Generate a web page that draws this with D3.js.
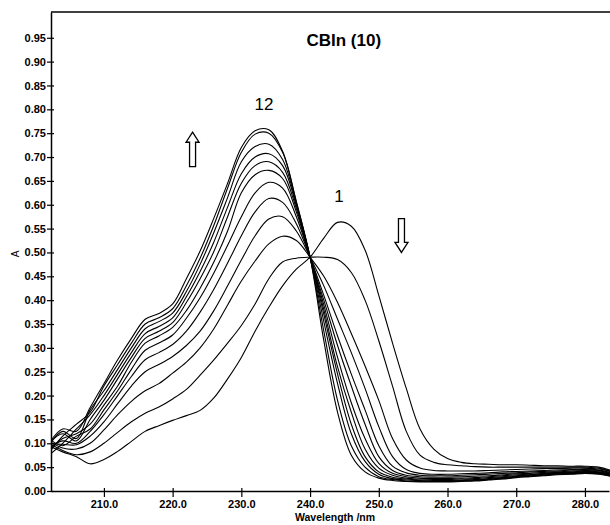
<!doctype html>
<html lang="en">

<head>
    <meta charset="utf-8">
    <title>CBIn (10)</title>
    <script src="https://cdnjs.cloudflare.com/ajax/libs/d3/7.8.5/d3.min.js"></script>
    <style>
    body {
        margin: 0;
        background: #fff;
    }

    text {
        font-family: "Liberation Sans", Arial, sans-serif;
        fill: #000;
    }

    .tick text {
        font-size: 11px;
        font-weight: bold;
    }

    .scan {
        fill: none;
        stroke: #000;
        stroke-width: 1.1px;
        stroke-linejoin: round;
    }
    </style>
</head>

<body>
<script>

// wavelength grid (nm), every 2 nm
var wavelengths = [202, 204, 206, 208, 210, 212, 214, 216, 218, 220, 222, 224, 226, 228, 230, 232, 234, 236, 238, 240, 242,
                   244, 246, 248, 250, 252, 254, 256, 258, 260, 262, 264, 266, 268, 270, 272, 274, 276, 278, 280, 282, 284];

// absorbance of each scan, 1 = first (peak at 245 nm) ... 12 = last
var scan1  = [0.095, 0.082, 0.072, 0.057, 0.066, 0.083, 0.104, 0.125, 0.137, 0.148, 0.158, 0.169, 0.195, 0.235, 0.280, 0.335, 0.385, 0.430, 0.465, 0.490, 0.530,
              0.563, 0.555, 0.505, 0.410, 0.310, 0.215, 0.130, 0.088, 0.068, 0.060, 0.057, 0.056, 0.055, 0.055, 0.054, 0.053, 0.053, 0.052, 0.052, 0.050, 0.042];
var scan2  = [0.100, 0.085, 0.076, 0.082, 0.100, 0.123, 0.145, 0.163, 0.176, 0.193, 0.213, 0.243, 0.275, 0.310, 0.347, 0.392, 0.445, 0.480, 0.488, 0.490, 0.490,
              0.485, 0.458, 0.400, 0.315, 0.220, 0.125, 0.075, 0.060, 0.055, 0.053, 0.051, 0.050, 0.050, 0.050, 0.050, 0.050, 0.050, 0.050, 0.050, 0.048, 0.040];
var scan3  = [0.105, 0.090, 0.088, 0.100, 0.128, 0.160, 0.188, 0.210, 0.225, 0.247, 0.270, 0.300, 0.340, 0.390, 0.440, 0.482, 0.518, 0.534, 0.525, 0.490, 0.450,
              0.395, 0.330, 0.262, 0.190, 0.110, 0.065, 0.048, 0.043, 0.042, 0.042, 0.042, 0.043, 0.044, 0.045, 0.046, 0.047, 0.047, 0.048, 0.048, 0.046, 0.040];
var scan4  = [0.100, 0.098, 0.097, 0.115, 0.145, 0.183, 0.220, 0.250, 0.265, 0.282, 0.305, 0.335, 0.378, 0.430, 0.484, 0.535, 0.570, 0.575, 0.545, 0.490, 0.430,
              0.360, 0.290, 0.215, 0.135, 0.072, 0.045, 0.037, 0.035, 0.035, 0.036, 0.037, 0.038, 0.040, 0.041, 0.042, 0.043, 0.044, 0.045, 0.046, 0.044, 0.038];
var scan5  = [0.090, 0.105, 0.100, 0.125, 0.160, 0.200, 0.240, 0.275, 0.290, 0.307, 0.335, 0.375, 0.423, 0.478, 0.535, 0.585, 0.613, 0.605, 0.560, 0.490, 0.410,
              0.325, 0.245, 0.170, 0.095, 0.052, 0.038, 0.033, 0.032, 0.032, 0.033, 0.034, 0.035, 0.037, 0.038, 0.040, 0.041, 0.042, 0.044, 0.045, 0.043, 0.037];
var scan6  = [0.110, 0.095, 0.115, 0.130, 0.170, 0.210, 0.255, 0.295, 0.310, 0.327, 0.362, 0.405, 0.457, 0.515, 0.575, 0.625, 0.647, 0.635, 0.575, 0.490, 0.400,
              0.305, 0.220, 0.140, 0.072, 0.043, 0.033, 0.030, 0.029, 0.029, 0.030, 0.031, 0.032, 0.034, 0.036, 0.037, 0.039, 0.040, 0.042, 0.043, 0.042, 0.036];
var scan7  = [0.085, 0.110, 0.120, 0.140, 0.180, 0.220, 0.270, 0.310, 0.325, 0.343, 0.378, 0.425, 0.480, 0.545, 0.625, 0.663, 0.672, 0.655, 0.585, 0.490, 0.390,
              0.280, 0.185, 0.110, 0.058, 0.037, 0.030, 0.027, 0.026, 0.026, 0.027, 0.028, 0.030, 0.032, 0.034, 0.035, 0.037, 0.039, 0.040, 0.042, 0.040, 0.035];
var scan8  = [0.100, 0.120, 0.105, 0.150, 0.190, 0.235, 0.280, 0.320, 0.335, 0.353, 0.395, 0.445, 0.502, 0.575, 0.645, 0.682, 0.690, 0.668, 0.592, 0.490, 0.380,
              0.260, 0.165, 0.088, 0.048, 0.033, 0.027, 0.025, 0.024, 0.024, 0.025, 0.026, 0.028, 0.030, 0.032, 0.034, 0.036, 0.038, 0.039, 0.041, 0.039, 0.034];
var scan9  = [0.075, 0.100, 0.130, 0.160, 0.200, 0.245, 0.290, 0.330, 0.345, 0.363, 0.407, 0.460, 0.522, 0.595, 0.665, 0.700, 0.707, 0.682, 0.598, 0.490, 0.370,
              0.245, 0.140, 0.072, 0.040, 0.029, 0.025, 0.023, 0.022, 0.022, 0.023, 0.024, 0.026, 0.028, 0.031, 0.033, 0.035, 0.037, 0.038, 0.040, 0.038, 0.033];
var scan10 = [0.095, 0.125, 0.110, 0.170, 0.210, 0.255, 0.300, 0.340, 0.355, 0.373, 0.418, 0.475, 0.542, 0.615, 0.690, 0.722, 0.727, 0.695, 0.602, 0.490, 0.355,
              0.225, 0.120, 0.062, 0.035, 0.026, 0.023, 0.022, 0.021, 0.021, 0.022, 0.023, 0.025, 0.027, 0.030, 0.032, 0.034, 0.036, 0.037, 0.039, 0.037, 0.032];
var scan11 = [0.080, 0.115, 0.140, 0.165, 0.220, 0.265, 0.310, 0.350, 0.363, 0.382, 0.430, 0.488, 0.557, 0.635, 0.710, 0.748, 0.750, 0.710, 0.607, 0.490, 0.335,
              0.190, 0.095, 0.050, 0.030, 0.024, 0.021, 0.020, 0.020, 0.020, 0.021, 0.022, 0.024, 0.026, 0.029, 0.031, 0.033, 0.035, 0.036, 0.038, 0.036, 0.031];
var scan12 = [0.100, 0.130, 0.125, 0.175, 0.225, 0.275, 0.320, 0.360, 0.372, 0.392, 0.445, 0.503, 0.572, 0.645, 0.720, 0.755, 0.757, 0.712, 0.605, 0.490, 0.315,
              0.165, 0.075, 0.040, 0.027, 0.022, 0.020, 0.019, 0.019, 0.019, 0.020, 0.021, 0.023, 0.025, 0.028, 0.030, 0.032, 0.034, 0.035, 0.037, 0.035, 0.030];

var scans = [scan1, scan2, scan3, scan4, scan5, scan6, scan7, scan8, scan9, scan10, scan11, scan12];

var xTicks = [210, 220, 230, 240, 250, 260, 270, 280];
var yTicks = [0, 0.05, 0.10, 0.15, 0.20, 0.25, 0.30, 0.35, 0.40, 0.45, 0.50, 0.55, 0.60, 0.65, 0.70, 0.75, 0.80, 0.85, 0.90, 0.95];

var title = "CBIn (10)";
var xTitle = "Wavelength /nm";
var yTitle = "A";

// scan labels and arrows, in data units
var scanLabels = [{text: "12", x: 233.3, y: 0.798}, {text: "1", x: 244.2, y: 0.605}];
var arrows = [{dir: "up", x: 222.9, top: 0.752, bottom: 0.68}, {dir: "down", x: 253.3, top: 0.571, bottom: 0.50}];

var width = 610,
    height = 525,
    plotLeft = 51,
    plotRight = 609,
    plotTop = 12,
    plotBottom = 491;

var x = d3.scaleLinear().domain([202.3, 283.5]).range([plotLeft, plotRight]);
var y = d3.scaleLinear().domain([0, 1.004]).range([plotBottom, plotTop]);

var svg = d3.select("body")
            .append("svg")
            .attr("width", width)
            .attr("height", height);

svg.append("clipPath")
    .attr("id", "plot")
    .append("rect")
    .attr("x", plotLeft)
    .attr("y", plotTop)
    .attr("width", plotRight - plotLeft + 1)
    .attr("height", plotBottom - plotTop);

var line = d3.line()
    .x(function(d, i) { return x(wavelengths[i]); })
    .y(function(d) { return y(d); })
    .curve(d3.curveCatmullRom.alpha(0.5));

svg.append("g")
    .attr("clip-path", "url(#plot)")
    .selectAll("path")
    .data(scans)
    .enter()
    .append("path")
    .attr("class", "scan")
    .attr("d", line);

// axes - ticks cross the axis line like the original
var xAxis = svg.append("g")
    .attr("transform", "translate(0," + plotBottom + ")")
    .call(d3.axisBottom(x).tickValues(xTicks).tickFormat(d3.format(".1f")).tickSize(6).tickPadding(3).tickSizeOuter(0));
xAxis.selectAll(".tick line").attr("y1", -3);

var yAxis = svg.append("g")
    .attr("transform", "translate(" + plotLeft + ",0)")
    .call(d3.axisLeft(y).tickValues(yTicks).tickFormat(d3.format(".2f")).tickSize(4).tickPadding(1).tickSizeOuter(0));
yAxis.selectAll(".tick line").attr("x1", 3);

svg.selectAll(".domain").attr("stroke", "#000").attr("stroke-width", 1.5);
svg.selectAll(".tick line").attr("stroke", "#000").attr("stroke-width", 1.2);

// top frame line
svg.append("line")
    .attr("x1", plotLeft).attr("x2", width)
    .attr("y1", plotTop).attr("y2", plotTop)
    .attr("stroke", "#000")
    .attr("stroke-width", 1.5);

svg.append("text")
    .attr("x", 335)
    .attr("y", 521)
    .attr("text-anchor", "middle")
    .style("font-size", "10.5px")
    .style("font-weight", "bold")
    .text(xTitle);

svg.append("text")
    .attr("transform", "translate(19,254) rotate(-90)")
    .attr("text-anchor", "middle")
    .style("font-size", "10px")
    .text(yTitle);

svg.append("text")
    .attr("x", x(244.9))
    .attr("y", y(0.932))
    .attr("text-anchor", "middle")
    .style("font-size", "17px")
    .style("font-weight", "bold")
    .text(title);

svg.selectAll(".scan-label")
    .data(scanLabels)
    .enter()
    .append("text")
    .attr("class", "scan-label")
    .attr("x", function(d) { return x(d.x); })
    .attr("y", function(d) { return y(d.y); })
    .attr("text-anchor", "middle")
    .style("font-size", "17px")
    .text(function(d) { return d.text; });

// hollow block arrows
function arrowPath(d) {
    var cx = x(d.x), y0 = y(d.top), y1 = y(d.bottom),
        hw = 6.5, sw = 3, hh = 10;
    if (d.dir === "up") {
        return "M" + cx + "," + y0 +
            "L" + (cx + hw) + "," + (y0 + hh) + "L" + (cx + sw) + "," + (y0 + hh) +
            "L" + (cx + sw) + "," + y1 + "L" + (cx - sw) + "," + y1 +
            "L" + (cx - sw) + "," + (y0 + hh) + "L" + (cx - hw) + "," + (y0 + hh) + "Z";
    }
    return "M" + cx + "," + y1 +
        "L" + (cx + hw) + "," + (y1 - hh) + "L" + (cx + sw) + "," + (y1 - hh) +
        "L" + (cx + sw) + "," + y0 + "L" + (cx - sw) + "," + y0 +
        "L" + (cx - sw) + "," + (y1 - hh) + "L" + (cx - hw) + "," + (y1 - hh) + "Z";
}

svg.selectAll(".arrow")
    .data(arrows)
    .enter()
    .append("path")
    .attr("class", "arrow")
    .attr("d", arrowPath)
    .attr("fill", "#fff")
    .attr("stroke", "#000")
    .attr("stroke-width", 1.3);

</script>
</body>

</html>
